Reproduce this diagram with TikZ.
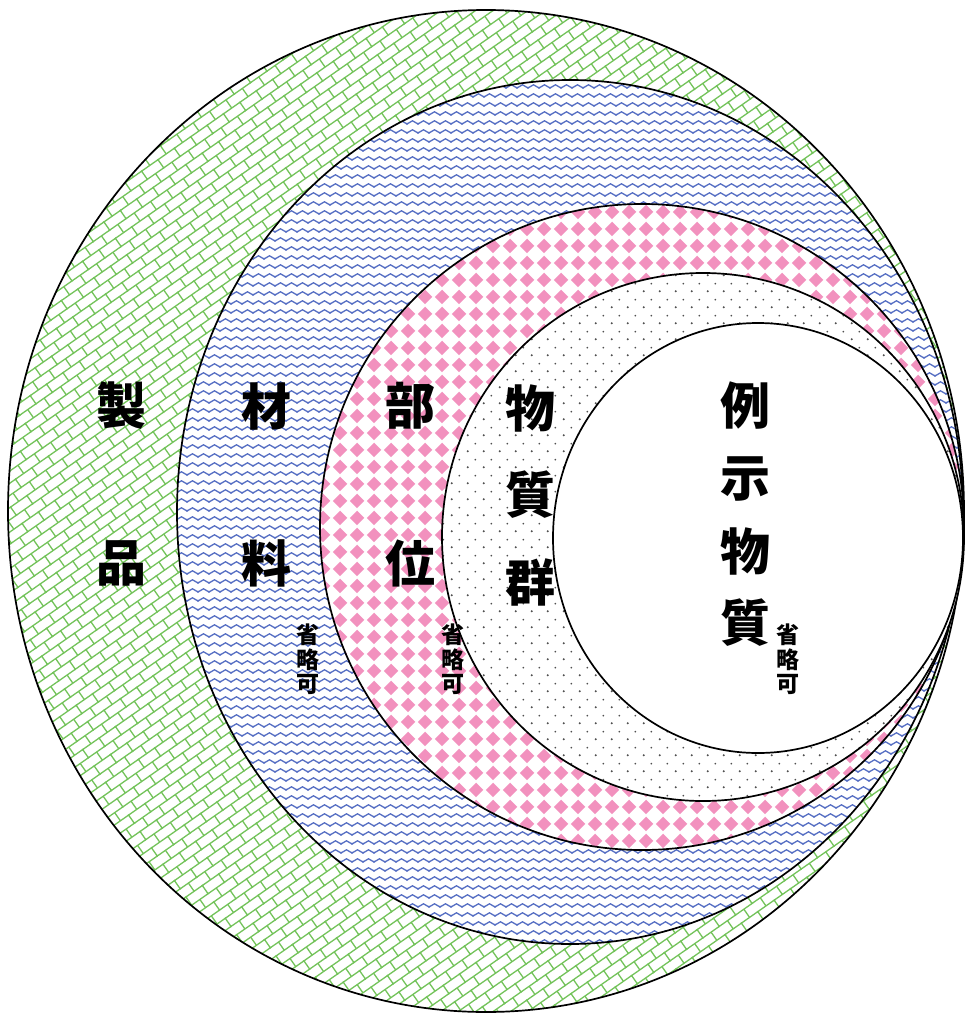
\documentclass[tikz,border=0pt]{standalone}
\usepackage{fontspec}
\newfontfamily\cjk{Noto Sans CJK JP}
\usetikzlibrary{patterns.meta}
\definecolor{brickgreen}{RGB}{115,195,90}
\definecolor{waveblue}{RGB}{85,110,195}
\definecolor{diapink}{RGB}{242,145,190}
\definecolor{dotgray}{RGB}{80,80,80}

\pgfdeclarepattern{
  name=brick, type=uncolored,
  bottom left={\pgfpoint{-1pt}{-1pt}},
  top right={\pgfpoint{21pt}{21pt}},
  tile size={\pgfpoint{20pt}{20pt}},
  tile transformation={\pgftransformrotate{35}},
  code={
    \pgfsetlinewidth{1.3pt}
    \pgfpathmoveto{\pgfpoint{-1pt}{0pt}}\pgfpathlineto{\pgfpoint{21pt}{0pt}}
    \pgfpathmoveto{\pgfpoint{-1pt}{10pt}}\pgfpathlineto{\pgfpoint{21pt}{10pt}}
    \pgfpathmoveto{\pgfpoint{0pt}{0pt}}\pgfpathlineto{\pgfpoint{0pt}{10pt}}
    \pgfpathmoveto{\pgfpoint{10pt}{10pt}}\pgfpathlineto{\pgfpoint{10pt}{20pt}}
    \pgfusepath{stroke}
  }
}
\pgfdeclarepattern{
  name=wave, type=uncolored,
  bottom left={\pgfpoint{-1pt}{-1pt}},
  top right={\pgfpoint{12pt}{10pt}},
  tile size={\pgfpoint{11pt}{9pt}},
  code={
    \pgfsetlinewidth{1.3pt}
    \pgfsetroundjoin
    \pgfpathmoveto{\pgfpoint{-2.75pt}{1.6pt}}
    \pgfpathlineto{\pgfpoint{0pt}{0pt}}
    \pgfpathlineto{\pgfpoint{5.5pt}{3.2pt}}
    \pgfpathlineto{\pgfpoint{11pt}{0pt}}
    \pgfpathlineto{\pgfpoint{13.75pt}{1.6pt}}
    \pgfusepath{stroke}
  }
}
\pgfdeclarepattern{
  name=diamonds, type=uncolored,
  bottom left={\pgfpoint{0pt}{0pt}},
  top right={\pgfpoint{16.6pt}{16.6pt}},
  tile size={\pgfpoint{16.6pt}{16.6pt}},
  code={
    \pgfpathmoveto{\pgfpoint{8.3pt}{0.9pt}}
    \pgfpathlineto{\pgfpoint{15.7pt}{8.3pt}}
    \pgfpathlineto{\pgfpoint{8.3pt}{15.7pt}}
    \pgfpathlineto{\pgfpoint{0.9pt}{8.3pt}}
    \pgfpathclose
    \pgfusepath{fill}
  }
}
\pgfdeclarepattern{
  name=dots, type=uncolored,
  bottom left={\pgfpoint{0pt}{0pt}},
  top right={\pgfpoint{16pt}{16pt}},
  tile size={\pgfpoint{16pt}{16pt}},
  code={
    \pgfpathcircle{\pgfpoint{4pt}{4pt}}{1.2pt}
    \pgfpathcircle{\pgfpoint{12pt}{12pt}}{1.0pt}
    \pgfusepath{fill}
  }
}

\begin{document}
\begin{tikzpicture}[x=1pt,y=-1pt,
  ring/.style={draw=black, line width=1.7pt, preaction={fill=white}},
  big/.style={font=\cjk\bfseries\fontsize{50}{50}\selectfont, inner sep=0pt},
  small/.style={font=\cjk\bfseries\fontsize{23}{23}\selectfont, inner sep=0pt}]
\useasboundingbox (0,0) rectangle (965,1015);
\fill[white] (0,0) rectangle (965,1015);

\path[ring, pattern=brick, pattern color=brickgreen] (486,511) ellipse [x radius=478, y radius=501];
\path[ring, pattern=wave, pattern color=waveblue] (570,512) ellipse [x radius=393, y radius=432];
\path[ring, pattern=diamonds, pattern color=diapink] (642,527) ellipse [x radius=322, y radius=323];
\path[ring, pattern=dots, pattern color=dotgray] (703,537) ellipse [x radius=261, y radius=264];
\path[ring] (758,538) ellipse [x radius=205, y radius=215];

\node[big] (s1) at (121,406) {製};
\node[big] (s2) at (121,563) {品};
\node[big] (z1) at (266,406) {材};
\node[big] (z2) at (266,563) {料};
\node[big] (b1) at (410,406) {部};
\node[big] (b2) at (410,563) {位};
\node[big] (g1) at (530,408) {物};
\node[big] (g2) at (530,495) {質};
\node[big] (g3) at (530,582) {群};
\node[big] (r1) at (745,406) {例};
\node[big] (r2) at (745,479) {示};
\node[big] (r3) at (745,551) {物};
\node[big] (r4) at (745,623) {質};

\node[small] (za) at (308,635) {省};
\node[small] (zb) at (308,660) {略};
\node[small] (zc) at (308,684) {可};
\node[small] (ba) at (453,635) {省};
\node[small] (bb) at (453,660) {略};
\node[small] (bc) at (453,684) {可};
\node[small] (ra) at (788,635) {省};
\node[small] (rb) at (788,660) {略};
\node[small] (rc) at (788,684) {可};
\end{tikzpicture}
\end{document}
